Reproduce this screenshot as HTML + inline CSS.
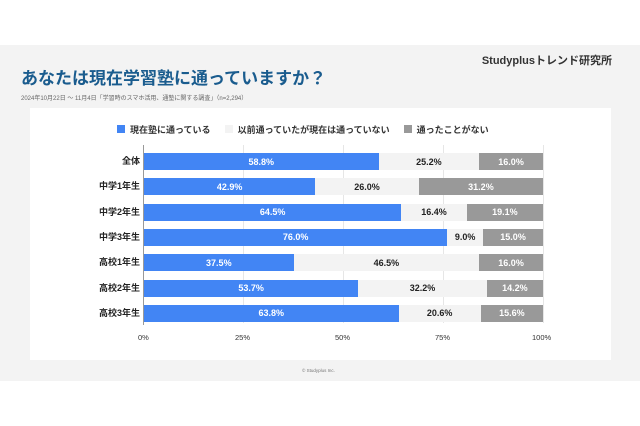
<!DOCTYPE html><html><head><meta charset="utf-8"><style>
body{margin:0;width:640px;height:426px;background:#fff;position:relative;overflow:hidden;font-family:"Liberation Sans","Noto Sans CJK JP",sans-serif}
.bg{position:absolute;left:0;top:45px;width:640px;height:336px;background:#f3f3f3}
.panel{position:absolute;left:30px;top:108px;width:581px;height:252px;background:#fff}
.t{position:absolute;white-space:nowrap}
.bar{position:absolute;height:17px;font-size:9px;font-weight:bold;display:flex;align-items:center;justify-content:center}
.grid{position:absolute;top:145px;width:1px;height:178px;background:#e6e6e6}
</style></head><body>
<div class="bg"></div><div class="panel"></div>
<div class="t" style="right:28px;top:52px;font-size:11px;color:#333;font-weight:bold">Studyplusトレンド研究所</div>
<div class="t" style="left:21px;top:64px;font-size:17px;color:#1a5c8e;font-weight:bold">あなたは現在学習塾に通っていますか？</div>
<div class="t" style="left:21px;top:93px;font-size:6px;color:#666">2024年10月22日 ～ 11月4日「学習時のスマホ活用、通塾に関する調査」（n=2,294）</div>
<div class="t" style="left:117px;top:123px;font-size:9px;font-weight:bold;color:#333"><span style="display:inline-block;width:8px;height:8px;background:#4285f4;margin-right:5px"></span>現在塾に通っている　<span style="display:inline-block;width:8px;height:8px;background:#f3f3f3;margin:0 5px"></span>以前通っていたが現在は通っていない　<span style="display:inline-block;width:8px;height:8px;background:#999;margin:0 5px"></span>通ったことがない</div>
<div class="grid" style="left:243px"></div><div class="grid" style="left:343px"></div><div class="grid" style="left:443px"></div><div class="grid" style="left:543px"></div>
<div style="position:absolute;left:143px;top:145px;width:1px;height:180px;background:#999"></div>
<div id="rows"></div>
<div class="t" style="left:138px;top:333px;font-size:7.5px;color:#333">0%</div>
<div class="t" style="left:235px;top:333px;font-size:7.5px;color:#333">25%</div>
<div class="t" style="left:335px;top:333px;font-size:7.5px;color:#333">50%</div>
<div class="t" style="left:435px;top:333px;font-size:7.5px;color:#333">75%</div>
<div class="t" style="left:532px;top:333px;font-size:7.5px;color:#333">100%</div>
<div class="t" style="left:302px;top:368px;font-size:4.5px;color:#777">© Studyplus Inc.</div>
<script>
var d=[["全体",58.8,25.2,16.0],["中学1年生",42.9,26.0,31.2],["中学2年生",64.5,16.4,19.1],["中学3年生",76.0,9.0,15.0],["高校1年生",37.5,46.5,16.0],["高校2年生",53.7,32.2,14.2],["高校3年生",63.8,20.6,15.6]];
var h="";d.forEach(function(r,i){var y=153+i*25.3,x=144,s=3.99;
h+='<div class="t" style="right:500px;top:'+y+'px;height:17px;line-height:17px;font-size:9px;font-weight:bold;color:#222">'+r[0]+'</div>';
var c=[["#4285f4","#fff"],["#f3f3f3","#222"],["#999","#fff"]];
for(var k=1;k<4;k++){var w=r[k]*s;if(x+w>543)w=543-x;h+='<div class="bar" style="left:'+x+'px;top:'+y+'px;width:'+w+'px;background:'+c[k-1][0]+';color:'+c[k-1][1]+'">'+r[k].toFixed(1)+'%</div>';x+=w;}});
document.getElementById("rows").innerHTML=h;
</script>
</body></html>
